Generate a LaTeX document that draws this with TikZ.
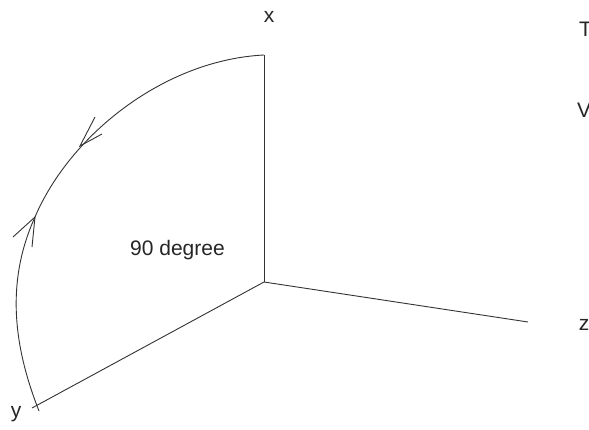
\documentclass[tikz,border=0pt]{standalone}
\usepackage{fontspec}
\setmainfont{Liberation Sans}
\tikzset{
  axis/.style={draw=black!80, line width=0.9pt},
  lbl/.style={font=\fontsize{21}{24}\selectfont, text=black!85, inner sep=0pt},
  barb/.style={draw=black!80, line width=0.9pt, line join=miter}
}
\begin{document}
\begin{tikzpicture}[x=1pt,y=-1pt]
\useasboundingbox (0,0) rectangle (589,430);
\fill[white] (0,0) rectangle (589,430);
\coordinate (O) at (264,282);
\coordinate (X) at (264,55);
\coordinate (Y) at (37,405);
\coordinate (Z) at (528,322);
\coordinate (M) at (35,217);
\coordinate (E) at (39,411);
\draw[axis] (X) -- (O);
\draw[axis] (O) -- (Z);
\draw[axis] (O) -- (32,408);
\draw[axis] (X) .. controls (164,60) and (70,135) .. (M)
                .. controls (6,281) and (13,345) .. (E);
% arrowheads
\coordinate (A1) at (80,146);
\draw[barb] (95,117) -- (A1) -- (102,134);
\draw[barb] (13,237) -- (M) -- (32,247);
\node[lbl] (lx) at (269,17) {x};
\node[lbl] (ly) at (16,414) {y};
\node[lbl] (lz) at (584,325) {z};
\node[lbl, anchor=west] (lt) at (579,29) {T};
\node[lbl, anchor=west] (lv) at (577,110) {V};
\node[lbl] (deg) at (177.5,250) {90 degree};
\end{tikzpicture}
\end{document}
